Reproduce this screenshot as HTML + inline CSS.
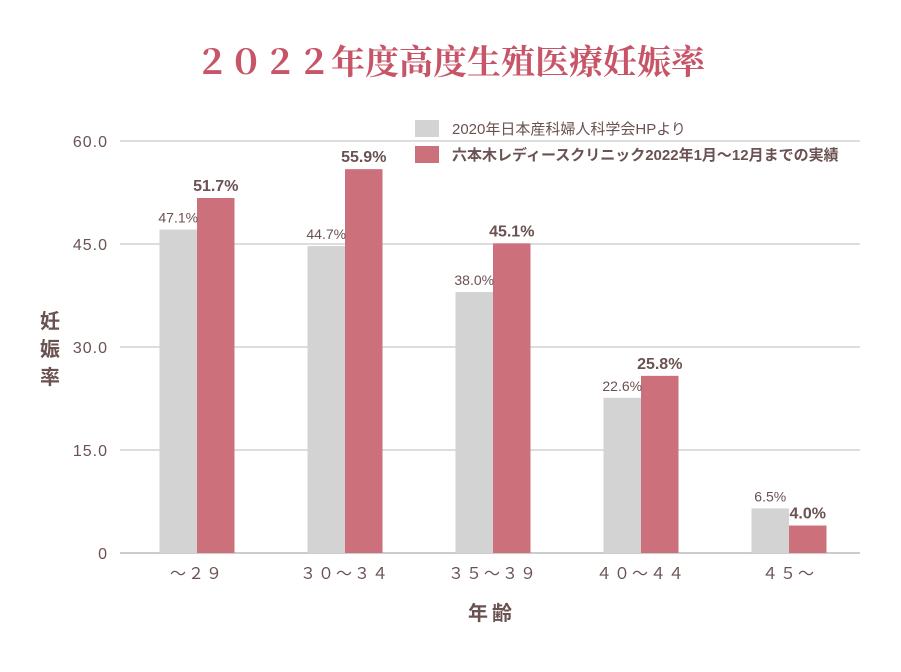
<!DOCTYPE html>
<html><head><meta charset="utf-8"><style>
html,body{margin:0;padding:0;background:#fff;}
body{width:901px;height:667px;overflow:hidden;}
text{font-family:"Liberation Sans","Noto Sans CJK JP",sans-serif;}
</style></head><body>
<svg id="chart" width="901" height="667" viewBox="0 0 901 667" xmlns="http://www.w3.org/2000/svg">
<text x="450" y="74" text-anchor="middle" font-size="34" font-weight="bold" fill="#c85468" style="font-family:'Noto Serif CJK SC','Noto Serif CJK JP',serif">２０２２年度高度生殖医療妊娠率</text>
<g>
<rect x="415" y="120" width="24" height="17" fill="#d3d3d3"/>
<text x="452" y="134" font-size="15" fill="#6b5252">2020年日本産科婦人科学会HPより</text>
<rect x="415" y="146" width="24" height="17" fill="#cc717b"/>
<text x="452" y="160" font-size="15" font-weight="bold" fill="#6b5252">六本木レディースクリニック2022年1月～12月までの実績</text>
</g>
<g id="plot"></g>
<text font-size="20" font-weight="bold" fill="#6b5252" text-anchor="middle"><tspan x="50" y="328">妊</tspan><tspan x="50" y="356">娠</tspan><tspan x="50" y="384">率</tspan></text>
<text x="492" y="620" font-size="20" font-weight="bold" fill="#6b5252" text-anchor="middle" letter-spacing="4">年齢</text>
</svg>
<script>
const categories = ["～２９","３０～３４","３５～３９","４０～４４","４５～"];
const jsogValues = [47.1, 44.7, 38.0, 22.6, 6.5];
const clinicValues = [51.7, 55.9, 45.1, 25.8, 4.0];
const yTicks = [0, 15, 30, 45, 60];
const yTickLabels = ["0","15.0","30.0","45.0","60.0"];

const NS = "http://www.w3.org/2000/svg";
const plot = document.getElementById('plot');
const x0 = 120, x1 = 860, yBase = 553, yTop = 141, yMax = 60;
const yScale = v => yBase - (v / yMax) * (yBase - yTop);
const groupW = (x1 - x0) / categories.length;
const xCenter = i => x0 + groupW * (i + 0.5) + 3;
const barW = 37.5;
function mk(tag, attrs) { const e = document.createElementNS(NS, tag); for (const k in attrs) e.setAttribute(k, attrs[k]); plot.appendChild(e); return e; }

yTicks.forEach((t, i) => {
  const y = yScale(t);
  const l = mk('line', {x1: x0, x2: x1, y1: y, y2: y, stroke: i === 0 ? '#999' : '#bbb', 'stroke-width': 1});
  
  
  const tx = mk('text', {x: 108, y: y + 6, 'text-anchor': 'end', 'font-size': 16, fill: '#6b5252', 'letter-spacing': 1});
  tx.textContent = yTickLabels[i];
  
  
});

categories.forEach((c, i) => {
  const cx = xCenter(i);
  const g = mk('rect', {x: cx - barW, y: yScale(jsogValues[i]), width: barW, height: yBase - yScale(jsogValues[i]), fill: '#d3d3d3'});
  
  
  const r = mk('rect', {x: cx, y: yScale(clinicValues[i]), width: barW, height: yBase - yScale(clinicValues[i]), fill: '#cc717b'});
  
  
  const gl = mk('text', {x: cx - barW / 2, y: yScale(jsogValues[i]) - 7, 'text-anchor': 'middle', 'font-size': 14, fill: '#6b5252'});
  gl.textContent = jsogValues[i].toFixed(1) + '%';
  
  
  const rl = mk('text', {x: cx + barW / 2, y: yScale(clinicValues[i]) - 7, 'text-anchor': 'middle', 'font-size': 16, 'font-weight': 'bold', fill: '#6b5252'});
  rl.textContent = clinicValues[i].toFixed(1) + '%';
  
  
  const xl = mk('text', {x: cx, y: 579, 'text-anchor': 'middle', 'font-size': 16, fill: '#6b5252', 'letter-spacing': 2});
  xl.textContent = c;
  
  
});
</script>
</body></html>
